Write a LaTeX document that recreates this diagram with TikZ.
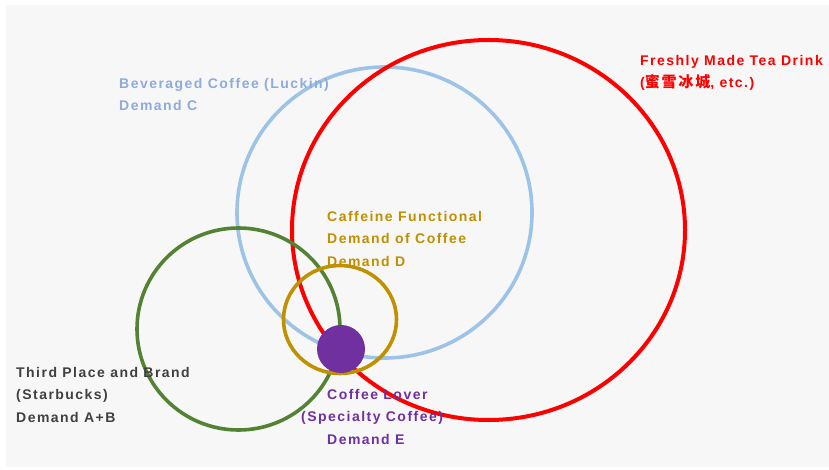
\documentclass[tikz,border=0pt]{standalone}
\usepackage{fontspec}
\setmainfont{Liberation Sans}[LetterSpace=10.5]
\newfontfamily\cjk{Noto Sans CJK SC}[LetterSpace=12]
\usetikzlibrary{positioning}

\definecolor{bggray}{RGB}{247,247,247}
\definecolor{teared}{RGB}{255,0,0}
\definecolor{luckinblue}{RGB}{157,195,230}
\definecolor{luckintext}{RGB}{143,170,220}
\definecolor{fungold}{RGB}{191,144,0}
\definecolor{brandgreen}{RGB}{84,130,53}
\definecolor{brandtext}{RGB}{64,64,64}
\definecolor{loverpurple}{RGB}{112,48,160}

\begin{document}
\begin{tikzpicture}[x=1pt,y=-1pt,
  ring/.style={line width=3.6pt},
  lbl/.style={font=\bfseries\fontsize{14}{22.5}\selectfont, align=left, inner sep=0pt, anchor=north west}]
\useasboundingbox (0,0) rectangle (829,470);
%background
\fill[bggray] (6,5) rectangle (829,467);
%demand circles
\draw[ring,luckinblue] (384.5,212.5) ellipse (147.5 and 145.5);
\draw[ring,teared,line width=4pt] (488.5,230) ellipse (196.5 and 190);
\draw[ring,brandgreen] (238.5,329) ellipse (101.5 and 101);
\draw[ring,fungold] (340,319.5) ellipse (56.5 and 54);
%core
\fill[loverpurple] (341,349) circle (24);
%labels
\node[lbl,text=teared] (tea) at (640,55) {Freshly Made Tea Drink\\({\cjk\bfseries\fontsize{15}{22.5}\selectfont 蜜雪冰城}, etc.)};
\node[lbl,text=luckintext] (luckin) at (119,78) {Beveraged Coffee (Luckin)\\Demand C};
\node[lbl,text=fungold] (caffeine) at (327,211) {Caffeine Functional\\Demand of Coffee\\Demand D};
\node[lbl,text=brandtext] (brand) at (16,367) {Third Place and Brand\\(Starbucks)\\Demand A+B};
\node[lbl,text=loverpurple] (lover) at (327,389) {Coffee Lover\\\hspace*{-26pt}(Specialty Coffee)\\Demand E};
\end{tikzpicture}
\end{document}
